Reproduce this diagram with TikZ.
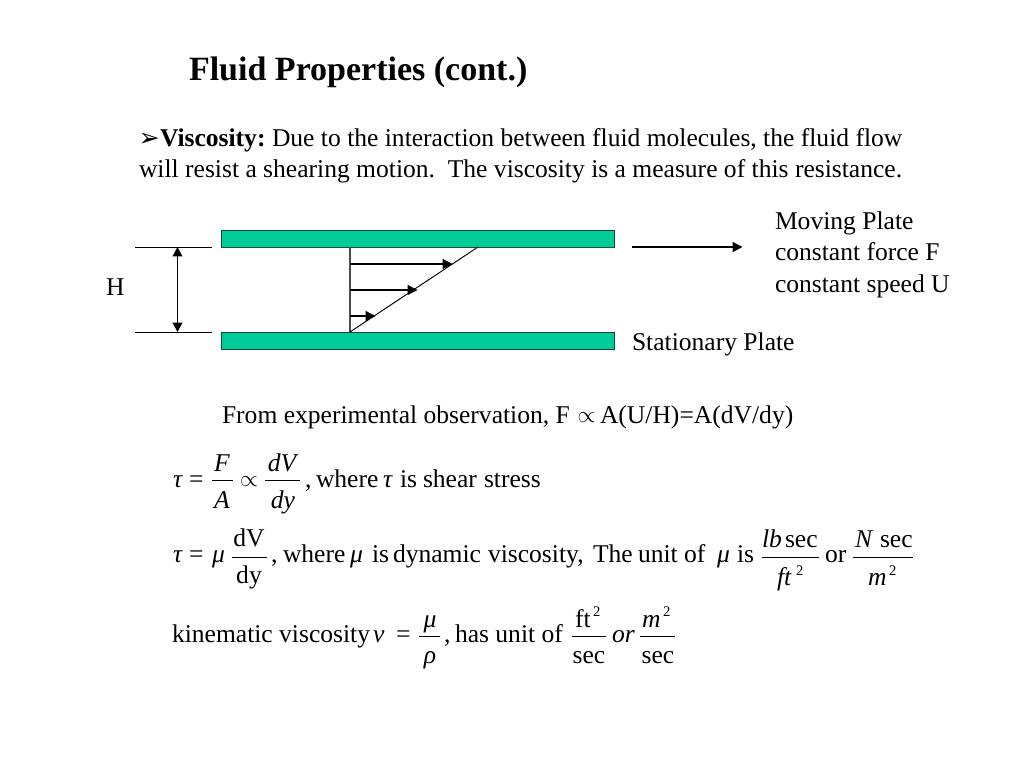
\documentclass[tikz,border=0pt]{standalone}
\usepackage{fontspec}
\setmainfont{Liberation Serif}
\newfontfamily\djv{DejaVu Sans}
\usetikzlibrary{arrows.meta}
\definecolor{plategreen}{HTML}{00CC99}
\definecolor{plateedge}{HTML}{0B4A3A}
\tikzset{
  txt/.style={anchor=base west,inner sep=0pt,outer sep=0pt,font=\fontsize{19.17}{23}\selectfont},
  ctxt/.style={anchor=base,inner sep=0pt,outer sep=0pt,font=\fontsize{19.17}{23}\selectfont},
  bigsym/.style={anchor=base west,inner sep=0pt,outer sep=0pt,font=\djv\fontsize{19}{24}\selectfont},
  propsym/.style={anchor=base west,inner sep=0pt,outer sep=0pt,font=\fontsize{16}{20}\selectfont},
  titletxt/.style={txt,font=\fontsize{25.5}{30}\selectfont\bfseries},
  supnum/.style={anchor=base west,inner sep=0pt,outer sep=0pt,font=\fontsize{11}{13}\selectfont},
  plate/.style={draw=plateedge,line width=0.8pt,fill=plategreen},
  thin line/.style={draw=black,line width=0.7pt},
  tip/.style={-{Triangle[length=7.5pt,width=7.5pt]},draw=black,line width=1pt},
  dbl/.style={{Triangle[length=7pt,width=7.2pt]}-{Triangle[length=7pt,width=7.2pt]},draw=black,line width=1.1pt},
  bar/.style={draw=black,line width=0.7pt}
}
\begin{document}
\begin{tikzpicture}[x=0.75pt,y=-0.75pt]
\useasboundingbox (0,0) rectangle (1024,768);
\fill[white] (0,0) rectangle (1024,768);
\node[titletxt] (title) at (189,80) {Fluid Properties (cont.)};
\node[bigsym] (bullet) at (138.5,146) {➢};
\node[txt] (l1a) at (160,146) {\textbf{Viscosity:}};
\node[txt] (l1b) at (272,146) {Due to the interaction between fluid molecules, the fluid flow};
\node[txt] (l2) at (139,177) {will resist a shearing motion.\ \ The viscosity is a measure of this resistance.};
% plates
\node[plate,inner sep=0pt,minimum width=295pt,minimum height=12.75pt,anchor=north west] (topplate) at (221,230) {};
\node[plate,inner sep=0pt,minimum width=295pt,minimum height=12.75pt,anchor=north west] (botplate) at (221,332) {};
% H dimension
\coordinate (hta) at (135,247); \coordinate (htb) at (212,247);
\coordinate (hba) at (135,332); \coordinate (hbb) at (212,332);
\coordinate (hat) at (177.5,247); \coordinate (hab) at (177.5,332);
\draw[thin line] (hta) -- (htb);
\draw[thin line] (hba) -- (hbb);
\draw[dbl] (hat) -- (hab);
\node[txt] (H) at (106,295) {H};
% profile
\coordinate (pt) at (350,247); \coordinate (pb) at (350,332); \coordinate (pd) at (478,247);
\coordinate (a1s) at (350,264); \coordinate (a1e) at (452.5,264);
\coordinate (a2s) at (350,290); \coordinate (a2e) at (417.5,290);
\coordinate (a3s) at (350,316); \coordinate (a3e) at (375.5,316);
\draw[draw=black!70,line width=0.9pt] (pt) -- (pb);
\draw[thin line] (pb) -- (pd);
\draw[tip] (a1s) -- (a1e);
\draw[tip] (a2s) -- (a2e);
\draw[tip] (a3s) -- (a3e);
% moving arrow
\coordinate (ms) at (632,247); \coordinate (me) at (742.5,247);
\draw[tip] (ms) -- (me);
\node[txt] (m1) at (775,229) {Moving Plate};
\node[txt] (m2) at (775,260) {constant force F};
\node[txt] (m3) at (775,292) {constant speed U};
\node[txt] (stat) at (632,350) {Stationary Plate};
\node[txt] (obs) at (222,423) {From experimental observation, F};
\node[propsym] (obsprop) at (577.5,422) {$\propto$};
\node[txt] (obs2) at (600,423) {A(U/H)=A(dV/dy)};
% equation 1
\node[txt] (e1tau) at (173,487) {\itshape τ};
\node[txt] (e1eq) at (189,487) {=};
\node[ctxt] (e1F) at (222,471) {\itshape F};
\draw[bar] (212,480.5) -- (233,480.5);
\node[ctxt] (e1A) at (222,508) {\itshape A};
\node[propsym] (e1prop) at (240,486) {$\propto$};
\node[ctxt] (e1dV) at (282,471) {\itshape dV};
\draw[bar] (265,480.5) -- (300,480.5);
\node[ctxt] (e1dy) at (283,508) {\itshape dy};
\node[txt] (e1c) at (305,487) {,};
\node[txt] (e1w) at (316,487) {where};
\node[txt] (e1t2) at (383,487) {\itshape τ};
\node[txt] (e1r) at (400,487) {is};
\node[txt] (e1r2) at (423,487) {shear};
\node[txt] (e1r3) at (484,487) {stress};
% equation 2
\node[txt] (e2tau) at (173,562) {\itshape τ};
\node[txt] (e2eq) at (189,562) {=};
\node[txt] (e2mu) at (212,562) {\itshape μ};
\node[ctxt] (e2dV) at (249,546) {dV};
\draw[bar] (232,557) -- (267,557);
\node[ctxt] (e2dy) at (249,583) {dy};
\node[txt] (e2c) at (271,562) {,};
\node[txt] (e2w) at (283,562) {where};
\node[txt] (e2m2) at (350,562) {\itshape μ};
\node[txt] (e2is) at (372,562) {is};
\node[txt] (e2dyn) at (393,562) {dynamic};
\node[txt] (e2v) at (488,562) {viscosity,};
\node[txt] (e2the) at (593,562) {The};
\node[txt] (e2u) at (638,562) {unit of};
\node[txt] (e2m3) at (717,562) {\itshape μ};
\node[txt] (e2is2) at (737,562) {is};
\node[txt] (e2lb) at (762,547) {\itshape lb};
\node[txt] (e2sec) at (785,547) {sec};
\draw[bar] (762,557) -- (819,557);
\node[txt] (e2ft) at (777,585) {\itshape ft};
\node[supnum] (e2ft2) at (796,575) {2};
\node[txt] (e2or) at (825,562) {or};
\node[txt] (e2N) at (855,547) {\itshape N};
\node[txt] (e2sec2) at (880,547) {sec};
\draw[bar] (853,557) -- (913,557);
\node[txt] (e2m) at (868,585) {\itshape m};
\node[supnum] (e2m22) at (889,575) {2};
% equation 3
\node[txt] (e3k) at (172,642) {kinematic viscosity};
\node[txt] (e3nu) at (373,642) {\itshape ν};
\node[txt] (e3eq) at (396,642) {=};
\node[ctxt] (e3mu) at (430,627) {\itshape μ};
\draw[bar] (419,636.5) -- (440,636.5);
\node[ctxt] (e3rho) at (430,663) {\itshape ρ};
\node[txt] (e3c) at (444,642) {,};
\node[txt] (e3h) at (455,642) {has unit of};
\node[txt] (e3ft) at (575,627) {ft};
\node[supnum] (e3ft2) at (593,616) {2};
\draw[bar] (572,636) -- (606,636);
\node[ctxt] (e3sec) at (589,663) {sec};
\node[txt] (e3or) at (612,642) {\itshape or};
\node[txt] (e3m) at (642,627) {\itshape m};
\node[supnum] (e3m2) at (663,616) {2};
\draw[bar] (640,636) -- (675,636);
\node[ctxt] (e3sec2) at (658,663) {sec};
\end{tikzpicture}
\end{document}
